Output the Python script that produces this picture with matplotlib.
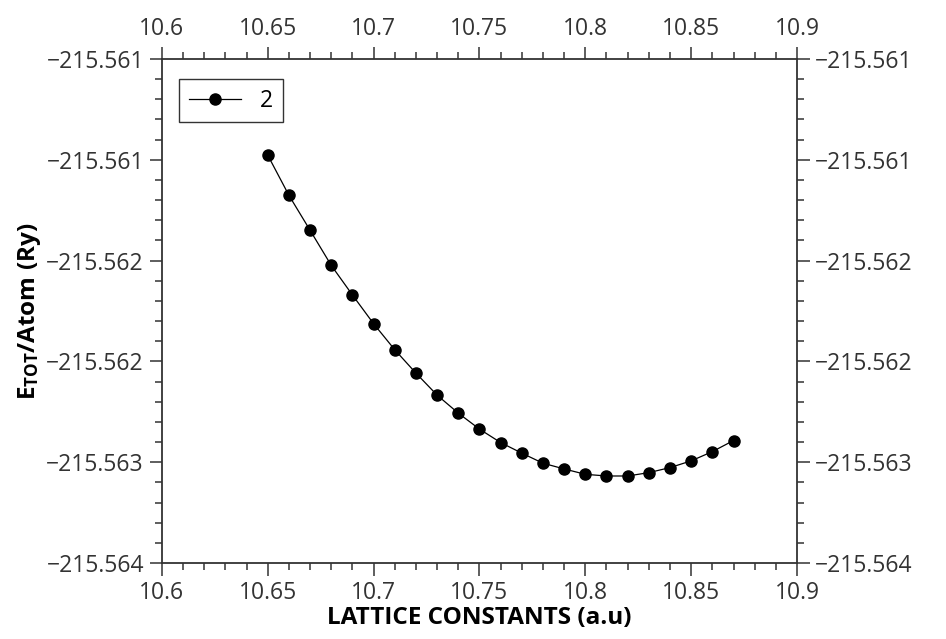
import matplotlib
matplotlib.use("Agg")
import matplotlib.pyplot as plt
from matplotlib.ticker import MultipleLocator, AutoMinorLocator, FuncFormatter, FixedLocator

plt.rcParams['font.family'] = ['Open Sans', 'DejaVu Sans']
plt.rcParams['mathtext.fontset'] = 'custom'
plt.rcParams['mathtext.rm'] = 'Open Sans'
plt.rcParams['mathtext.bf'] = 'Open Sans:bold'

# lattice constant (a.u) vs total energy per atom (Ry)
lattice = [10.65, 10.66, 10.67, 10.68, 10.69, 10.70, 10.71, 10.72, 10.73, 10.74, 10.75, 10.76,
           10.77, 10.78, 10.79, 10.80, 10.81, 10.82, 10.83, 10.84, 10.85, 10.86, 10.87]
energy = [-215.561173, -215.561412, -215.561620, -215.561829, -215.562005, -215.562176,
          -215.562331, -215.562470, -215.562601, -215.562708, -215.562803, -215.562883,
          -215.562946, -215.563006, -215.563040, -215.563072, -215.563082, -215.563082,
          -215.563062, -215.563032, -215.562992, -215.562937, -215.562871]
series_label = "2"

x_range = (10.6, 10.9)
y_ticks = [-215.5636, -215.5630, -215.5624, -215.5618, -215.5612, -215.5606]

grey = '#333333'

fig = plt.figure(figsize=(9.46, 6.39), dpi=100)
ax = fig.add_axes([0.1712, 0.1189, 0.6713, 0.7888])

ax.plot(lattice, energy, color='black', lw=0.9, marker='o', ms=8, label=series_label)

ax.set_xlim(*x_range)
ax.set_ylim(y_ticks[0], y_ticks[-1])
ax.xaxis.set_major_locator(MultipleLocator(0.05))
ax.xaxis.set_minor_locator(AutoMinorLocator(5))
ax.yaxis.set_major_locator(FixedLocator(y_ticks))
ax.yaxis.set_minor_locator(AutoMinorLocator(5))
ax.xaxis.set_major_formatter(FuncFormatter(lambda v, p: f"{v:g}"))
ax.yaxis.set_major_formatter(FuncFormatter(lambda v, p: f"{v:.3f}".replace('-', '\u2212')))

ax.tick_params(which='both', direction='out', top=True, right=True,
               labeltop=True, labelright=True, colors=grey, labelsize=16.5, width=1.1)
ax.tick_params(which='major', length=9, pad=4)
ax.tick_params(which='minor', length=5)
for s in ax.spines.values():
    s.set_color(grey)
    s.set_linewidth(1.3)

ax.set_xlabel("LATTICE CONSTANTS (a.u)", fontsize=17.5, fontweight='bold', labelpad=1)
ax.set_ylabel(r"$\mathbf{E_{TOT}}$/Atom (Ry)", fontsize=17.5, fontweight='bold', labelpad=2)

leg = ax.legend(loc='upper left', fontsize=16.5, frameon=True, fancybox=False,
                edgecolor='black', handlelength=2.3, borderpad=0.42, borderaxespad=0,
                handletextpad=0.8, bbox_to_anchor=(0.027, 0.96))
leg.get_frame().set_linewidth(1.0)

fig.savefig("out.png", dpi=100)
